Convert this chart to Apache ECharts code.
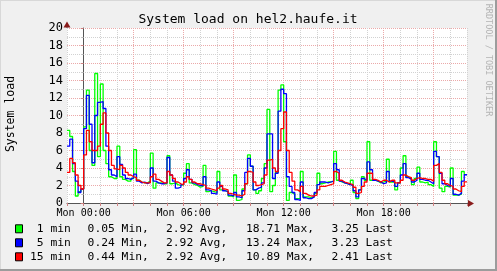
<!DOCTYPE html>
<html><head><meta charset="utf-8">
<script src="https://cdn.jsdelivr.net/npm/echarts@6/dist/echarts.min.js"></script>
<style>html,body{margin:0;padding:0;background:#f0f0f0}#c{width:497px;height:271px}</style>
</head><body><div id="c"></div>
<script>
// ---- data ----
const chartTitle = 'System load on hel2.haufe.it';
const yAxisName = 'System load';
const watermark = 'RRDTOOL / TOBI OETIKER';
const startMinute = -60;   // Sun 23:00 relative to Mon 00:00
const endMinute = 1380;    // Mon 23:00
const stepMinutes = 10;
const xTickLabels = {0: 'Mon 00:00', 360: 'Mon 06:00', 720: 'Mon 12:00', 1080: 'Mon 18:00'};
const seriesNames = [' 1 min', ' 5 min', '15 min'];
const seriesColors = ['#00ff00', '#0000ff', '#ff0000'];
const statMin = ['0.05 Min,', '0.24 Min,', '0.44 Min,'];
const statAvg = ['2.92 Avg,', '2.92 Avg,', '2.92 Avg,'];
const statMax = ['18.71 Max,', '13.24 Max,', '10.89 Max,'];
const statLast = ['3.25 Last', '3.23 Last', '2.41 Last'];

const load1 = [
 8.3,7.6,3.6,0.8,1.3,1.6,8.7,12.9,6.0,4.3, 14.8,5.3,13.6,6.0,4.5,3.0,2.8,2.8,6.5,3.0,
 2.7,2.5,2.5,2.8,6.1,2.6,2.4,2.3,2.3,2.5, 5.7,1.7,2.3,2.3,2.2,2.2,5.4,2.2,2.3,2.1,
 2.0,2.1,3.4,4.5,2.3,2.1,2.0,1.8,1.9,4.3, 1.3,1.4,1.3,1.2,3.6,1.5,1.4,1.3,0.8,0.7,
 3.2,0.3,0.4,1.6,2.2,5.5,4.2,1.5,1.1,1.4, 2.8,4.5,10.7,1.3,2.0,3.5,12.9,13.5,7.0,0.3,
 1.2,1.0,0.5,0.5,3.6,0.7,0.7,0.6,0.7,1.1, 3.4,2.2,2.3,2.4,2.4,2.5,5.9,2.6,2.4,2.3,
 2.2,2.1,2.6,1.2,0.5,1.5,3.0,2.6,7.0,2.6, 2.6,2.5,2.3,2.4,2.5,5.0,2.4,2.4,1.5,2.3,
 4.0,5.4,3.0,2.8,2.1,2.8,4.1,2.4,2.3,2.4, 2.1,1.9,7.0,5.3,1.7,1.3,1.9,1.8,4.0,0.9,
 0.9,1.0,3.6,3.25
];
const load5 = [
 6.5,7.3,4.5,2.5,1.2,1.6,8.5,12.3,9.0,4.6, 10.0,11.5,11.6,10.8,6.5,3.8,3.2,3.0,5.3,4.4,
 3.2,2.8,2.7,2.9,3.3,2.5,2.3,2.4,2.2,2.4, 4.0,2.5,2.3,2.2,2.2,2.3,5.2,3.2,2.5,1.7,
 1.8,2.1,2.8,3.8,2.7,2.3,2.1,2.0,2.0,3.0, 1.5,1.4,1.1,1.0,2.4,1.9,1.4,1.3,0.9,0.8,
 1.2,0.7,0.6,1.4,3.5,5.1,4.2,1.5,1.7,1.8, 2.3,4.0,7.9,7.9,2.8,3.4,10.5,13.0,12.5,3.0,
 1.9,1.2,0.4,0.3,2.4,0.6,0.5,0.5,0.7,1.2, 2.1,2.4,2.4,2.3,2.4,2.5,4.5,3.8,2.5,2.3,
 2.2,2.1,2.0,1.4,0.7,1.5,2.8,2.6,4.7,3.8, 2.6,2.5,2.4,2.2,2.3,3.6,2.5,2.4,1.9,2.3,
 3.2,4.5,2.9,2.7,2.4,2.6,3.4,2.7,2.6,2.6, 2.4,2.2,5.9,5.3,3.4,2.2,2.0,1.9,2.8,1.0,
 0.9,1.1,2.5,3.23
];
const load15 = [
 3.5,5.1,4.6,3.2,2.0,1.6,5.5,8.3,7.0,6.0, 6.0,6.5,9.0,10.3,8.0,6.0,4.3,3.9,3.8,4.3,
 4.0,3.5,3.2,3.0,2.9,2.6,2.4,2.3,2.3,2.3, 3.0,3.3,2.7,2.5,2.3,2.3,3.6,3.2,2.8,2.4,
 2.2,2.1,2.4,3.0,2.7,2.4,2.2,2.2,2.1,2.0, 1.7,1.6,1.5,1.4,1.7,2.0,1.6,1.5,1.1,1.0,
 0.9,0.9,0.8,1.0,2.2,3.6,3.5,2.4,2.0,2.1, 2.2,3.2,4.9,5.0,4.0,3.6,6.0,8.5,10.4,6.0,
 3.5,2.5,1.5,1.3,1.9,1.1,0.9,0.8,0.8,0.9, 1.5,1.9,1.9,2.0,2.1,2.2,3.6,3.4,2.6,2.4,
 2.3,2.2,2.1,1.8,1.1,1.2,1.9,2.4,3.4,3.4, 2.7,2.6,2.4,2.6,2.6,2.4,2.6,2.6,2.3,2.3,
 2.6,3.2,3.0,2.9,2.6,2.8,2.9,2.8,2.8,2.7, 2.7,2.5,4.3,4.5,3.5,2.6,2.2,2.0,1.9,1.6,
 1.4,1.3,1.9,2.41
];
const seriesValues = [load1, load5, load15];

// ---- build ----
function toPairs(vals) {
  const out = vals.map((v, i) => [startMinute + i * stepMinutes, v]);
  out.push([endMinute, vals[vals.length - 1]]);
  return out;
}
const MONO = '"DejaVu Sans Mono", monospace';
const minorGrid = '#d2d2d2';
const majorGrid = '#eba9a9';

const chart = echarts.init(document.getElementById('c'), null, {renderer: 'canvas'});

const graphics = [
  {type: 'line', shape: {x1: 0, y1: 0.5, x2: 497, y2: 0.5}, style: {stroke: '#d8d8d8', lineWidth: 1}, z: 10},
  {type: 'line', shape: {x1: 0.5, y1: 0, x2: 0.5, y2: 271}, style: {stroke: '#d8d8d8', lineWidth: 1}, z: 10},
  {type: 'line', shape: {x1: 0, y1: 270, x2: 497, y2: 270}, style: {stroke: '#9c9c9c', lineWidth: 2}, z: 10},
  {type: 'line', shape: {x1: 496, y1: 0, x2: 496, y2: 271}, style: {stroke: '#9c9c9c', lineWidth: 2}, z: 10},
  {type: 'text', x: 248, y: 19.5, style: {text: chartTitle, align: 'center', verticalAlign: 'middle', font: '13px ' + MONO, fill: '#000'}},
  {type: 'text', x: 11, y: 114, rotation: Math.PI / 2, style: {text: yAxisName, align: 'center', verticalAlign: 'middle', font: '11.5px ' + MONO, fill: '#000'}},
  {type: 'text', x: 488, y: 60, rotation: -Math.PI / 2, style: {text: watermark, align: 'center', verticalAlign: 'middle', font: '8.5px ' + MONO, fill: '#b4b4b4'}},
  // axis extensions and arrows
  {type: 'line', shape: {x1: 67, y1: 28, x2: 67, y2: 24}, style: {stroke: '#555', lineWidth: 1}, z: 10},
  {type: 'polygon', shape: {points: [[63.5, 27.5], [70.5, 27.5], [67, 21.5]]}, style: {fill: '#8a1c1c'}, z: 10},
  {type: 'line', shape: {x1: 467, y1: 203.5, x2: 470, y2: 203.5}, style: {stroke: '#555', lineWidth: 1}, z: 10},
  {type: 'polygon', shape: {points: [[468, 200], [468, 207], [474, 203.5]]}, style: {fill: '#8a1c1c'}, z: 10}
];
const statCols = [statMin, statAvg, statMax, statLast];
const statX = [87.6, 166, 246, 331.6];
for (let r = 0; r < 3; r++) {
  const cy = 229.3 + r * 14;
  graphics.push({type: 'rect', shape: {x: 15.5, y: cy - 4.5, width: 7, height: 8}, style: {fill: seriesColors[r], stroke: '#000', lineWidth: 1}});
  graphics.push({type: 'text', x: 30, y: cy, style: {text: seriesNames[r], align: 'left', verticalAlign: 'middle', font: '11.3px ' + MONO, fill: '#000'}});
  for (let c = 0; c < 4; c++) {
    graphics.push({type: 'text', x: statX[c], y: cy, style: {text: statCols[c][r], align: 'left', verticalAlign: 'middle', font: '11.3px ' + MONO, fill: '#000'}});
  }
}

chart.setOption({
  animation: false,
  backgroundColor: '#f0f0f0',
  grid: {left: 67, top: 28, width: 400, height: 175, show: true, backgroundColor: '#ffffff', borderWidth: 0},
  xAxis: {
    type: 'value', min: startMinute, max: endMinute, interval: 60,
    axisLine: {show: true, onZero: false, lineStyle: {color: '#555', width: 1}},
    axisTick: {show: true, length: 3, lineStyle: {color: '#d08080'}},
    axisLabel: {
      show: true, margin: 5, fontSize: 10, fontFamily: MONO, color: '#000',
      formatter: v => xTickLabels[v] || ''
    },
    splitLine: {show: true, lineStyle: {color: [minorGrid, majorGrid, minorGrid], type: 'dotted', width: 1}}
  },
  yAxis: {
    type: 'value', min: 0, max: 20, interval: 2,
    axisLine: {show: true, lineStyle: {color: '#555', width: 1}},
    axisTick: {show: true, length: 3, lineStyle: {color: '#d08080'}},
    minorTick: {show: true, splitNumber: 2, length: 2, lineStyle: {color: '#bbbbbb'}},
    axisLabel: {show: true, margin: 4, fontSize: 12, fontFamily: MONO, color: '#000'},
    splitLine: {show: true, lineStyle: {color: majorGrid, type: 'dotted', width: 1}},
    minorSplitLine: {show: true, lineStyle: {color: minorGrid, type: 'dotted', width: 1}}
  },
  series: seriesValues.map((vals, i) => ({
    type: 'line', name: seriesNames[i], step: 'end', data: toPairs(vals),
    showSymbol: false, symbol: 'none', silent: true,
    lineStyle: {color: seriesColors[i], width: 1.3}, z: 3 + i
  })),
  graphic: graphics
});
</script></body></html>
